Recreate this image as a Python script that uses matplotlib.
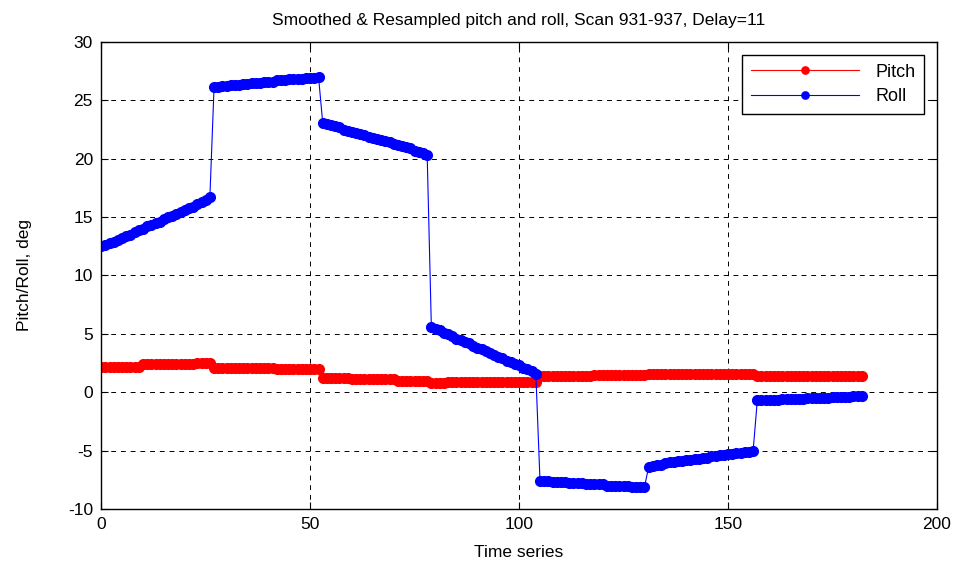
import numpy as np
import matplotlib
matplotlib.use("Agg")
import matplotlib.pyplot as plt

plt.rcParams['font.family'] = ['Liberation Sans', 'DejaVu Sans']
plt.rcParams['axes.unicode_minus'] = False

# ==========================================
# Data (one sample per time step)
# ==========================================
roll_seg1 = [12.5, 12.6, 12.8, 12.9, 13.0, 13.2, 13.4, 13.5, 13.7, 13.9,
             14.0, 14.2, 14.3, 14.5, 14.6, 14.8, 15.0, 15.1, 15.3, 15.4,
             15.6, 15.8, 15.9, 16.1, 16.3, 16.5, 16.7]
roll_seg2 = [26.1, 26.1, 26.2, 26.2, 26.3, 26.3, 26.3, 26.4, 26.4, 26.5,
             26.5, 26.5, 26.6, 26.6, 26.6, 26.7, 26.7, 26.7, 26.8, 26.8,
             26.8, 26.8, 26.9, 26.9, 26.9, 27.0]
roll_seg3 = [23.1, 23.0, 22.9, 22.8, 22.7, 22.5, 22.4, 22.3, 22.2, 22.1,
             22.0, 21.9, 21.8, 21.7, 21.6, 21.5, 21.4, 21.3, 21.2, 21.1,
             21.0, 20.9, 20.7, 20.6, 20.5, 20.3]
roll_seg4 = [5.6, 5.4, 5.3, 5.1, 5.0, 4.8, 4.6, 4.5, 4.3, 4.2,
             4.0, 3.8, 3.7, 3.5, 3.4, 3.2, 3.0, 2.9, 2.7, 2.6,
             2.4, 2.3, 2.1, 2.0, 1.8, 1.6]
roll_seg5 = [-7.6, -7.6, -7.6, -7.7, -7.7, -7.7, -7.7, -7.8, -7.8, -7.8,
             -7.8, -7.9, -7.9, -7.9, -7.9, -7.9, -8.0, -8.0, -8.0, -8.0,
             -8.0, -8.0, -8.1, -8.1, -8.1, -8.1]
roll_seg6 = [-6.4, -6.3, -6.2, -6.2, -6.1, -6.0, -6.0, -5.9, -5.9, -5.8,
             -5.8, -5.7, -5.7, -5.6, -5.6, -5.5, -5.5, -5.4, -5.4, -5.3,
             -5.3, -5.2, -5.2, -5.1, -5.1, -5.0]
roll_seg7 = [-0.7, -0.7, -0.7, -0.7, -0.7, -0.7, -0.6, -0.6, -0.6, -0.6,
             -0.6, -0.6, -0.5, -0.5, -0.5, -0.5, -0.5, -0.5, -0.4, -0.4,
             -0.4, -0.4, -0.4, -0.3, -0.3, -0.3]

pitch_seg1 = [2.2, 2.2, 2.2, 2.2, 2.2, 2.2, 2.2, 2.2, 2.2, 2.2,
              2.4, 2.4, 2.4, 2.4, 2.4, 2.4, 2.4, 2.4, 2.4, 2.4,
              2.4, 2.4, 2.4, 2.5, 2.5, 2.5, 2.5]
pitch_seg2 = [2.1, 2.1, 2.1, 2.1, 2.1, 2.1, 2.1, 2.1, 2.1, 2.1,
              2.1, 2.1, 2.1, 2.1, 2.1, 2.0, 2.0, 2.0, 2.0, 2.0,
              2.0, 2.0, 2.0, 2.0, 2.0, 2.0]
pitch_seg3 = [1.2, 1.2, 1.2, 1.2, 1.2, 1.2, 1.2, 1.1, 1.1, 1.1,
              1.1, 1.1, 1.1, 1.1, 1.1, 1.1, 1.1, 1.1, 1.0, 1.0,
              1.0, 1.0, 1.0, 1.0, 1.0, 1.0]
pitch_seg4 = [0.8, 0.8, 0.8, 0.8, 0.9, 0.9, 0.9, 0.9, 0.9, 0.9,
              0.9, 0.9, 0.9, 0.9, 0.9, 0.9, 0.9, 0.9, 0.9, 0.9,
              0.9, 0.9, 0.9, 0.9, 0.9, 0.9]
pitch_seg5 = [1.35, 1.35, 1.35, 1.35, 1.35, 1.35, 1.35, 1.35, 1.35, 1.35,
              1.35, 1.35, 1.35, 1.5, 1.5, 1.5, 1.5, 1.5, 1.5, 1.5,
              1.5, 1.5, 1.5, 1.5, 1.5, 1.5]
pitch_seg6 = [1.6, 1.6, 1.6, 1.6, 1.6, 1.6, 1.6, 1.6, 1.6, 1.6,
              1.6, 1.6, 1.6, 1.6, 1.6, 1.6, 1.6, 1.6, 1.6, 1.6,
              1.6, 1.6, 1.6, 1.6, 1.6, 1.6]
pitch_seg7 = [1.4, 1.35, 1.35, 1.35, 1.35, 1.35, 1.35, 1.35, 1.35, 1.35,
              1.35, 1.35, 1.35, 1.35, 1.35, 1.35, 1.35, 1.35, 1.35, 1.35,
              1.35, 1.35, 1.35, 1.35, 1.35, 1.35]

roll = roll_seg1 + roll_seg2 + roll_seg3 + roll_seg4 + roll_seg5 + roll_seg6 + roll_seg7
pitch = pitch_seg1 + pitch_seg2 + pitch_seg3 + pitch_seg4 + pitch_seg5 + pitch_seg6 + pitch_seg7
t = np.arange(len(roll))

x_ticks = [0, 50, 100, 150, 200]
y_ticks = [-10, -5, 0, 5, 10, 15, 20, 25, 30]

# ==========================================
# Plot
# ==========================================
fig = plt.figure(figsize=(9.64, 5.67), dpi=100)
ax = fig.add_axes([0.105, 0.1023, 0.867, 0.8237])

ax.plot(t, pitch, color='#ff0000', lw=0.8, marker='o', ms=7, mec='#ff0000', label='Pitch')
ax.plot(t, roll, color='#0000ff', lw=0.8, marker='o', ms=7, mec='#0000ff', label='Roll')

ax.set_xlim(0, 200)
ax.set_ylim(-10, 30)
ax.set_xticks(x_ticks)
ax.set_yticks(y_ticks)
ax.tick_params(direction='in', top=True, right=True, labelsize=12.5, length=5, pad=6)
ax.grid(True, color='black', linestyle=(0, (5, 5)), linewidth=0.7)
for s in ax.spines.values():
    s.set_linewidth(1.0)

ax.set_xlabel('Time series', fontsize=12.5, labelpad=9)
ax.set_ylabel('Pitch/Roll, deg', fontsize=12.5, labelpad=26)
ax.set_title('Smoothed & Resampled pitch and roll, Scan 931-937, Delay=11',
             fontsize=12.5, pad=12)

leg = ax.legend(loc='upper right', fontsize=13, handlelength=6.0, handletextpad=0.9,
                fancybox=False, framealpha=1, edgecolor='black', borderpad=0.5,
                labelspacing=0.4, borderaxespad=0.7, markerscale=0.75)
leg.get_frame().set_linewidth(1.0)

fig.savefig('out.png', dpi=100)
